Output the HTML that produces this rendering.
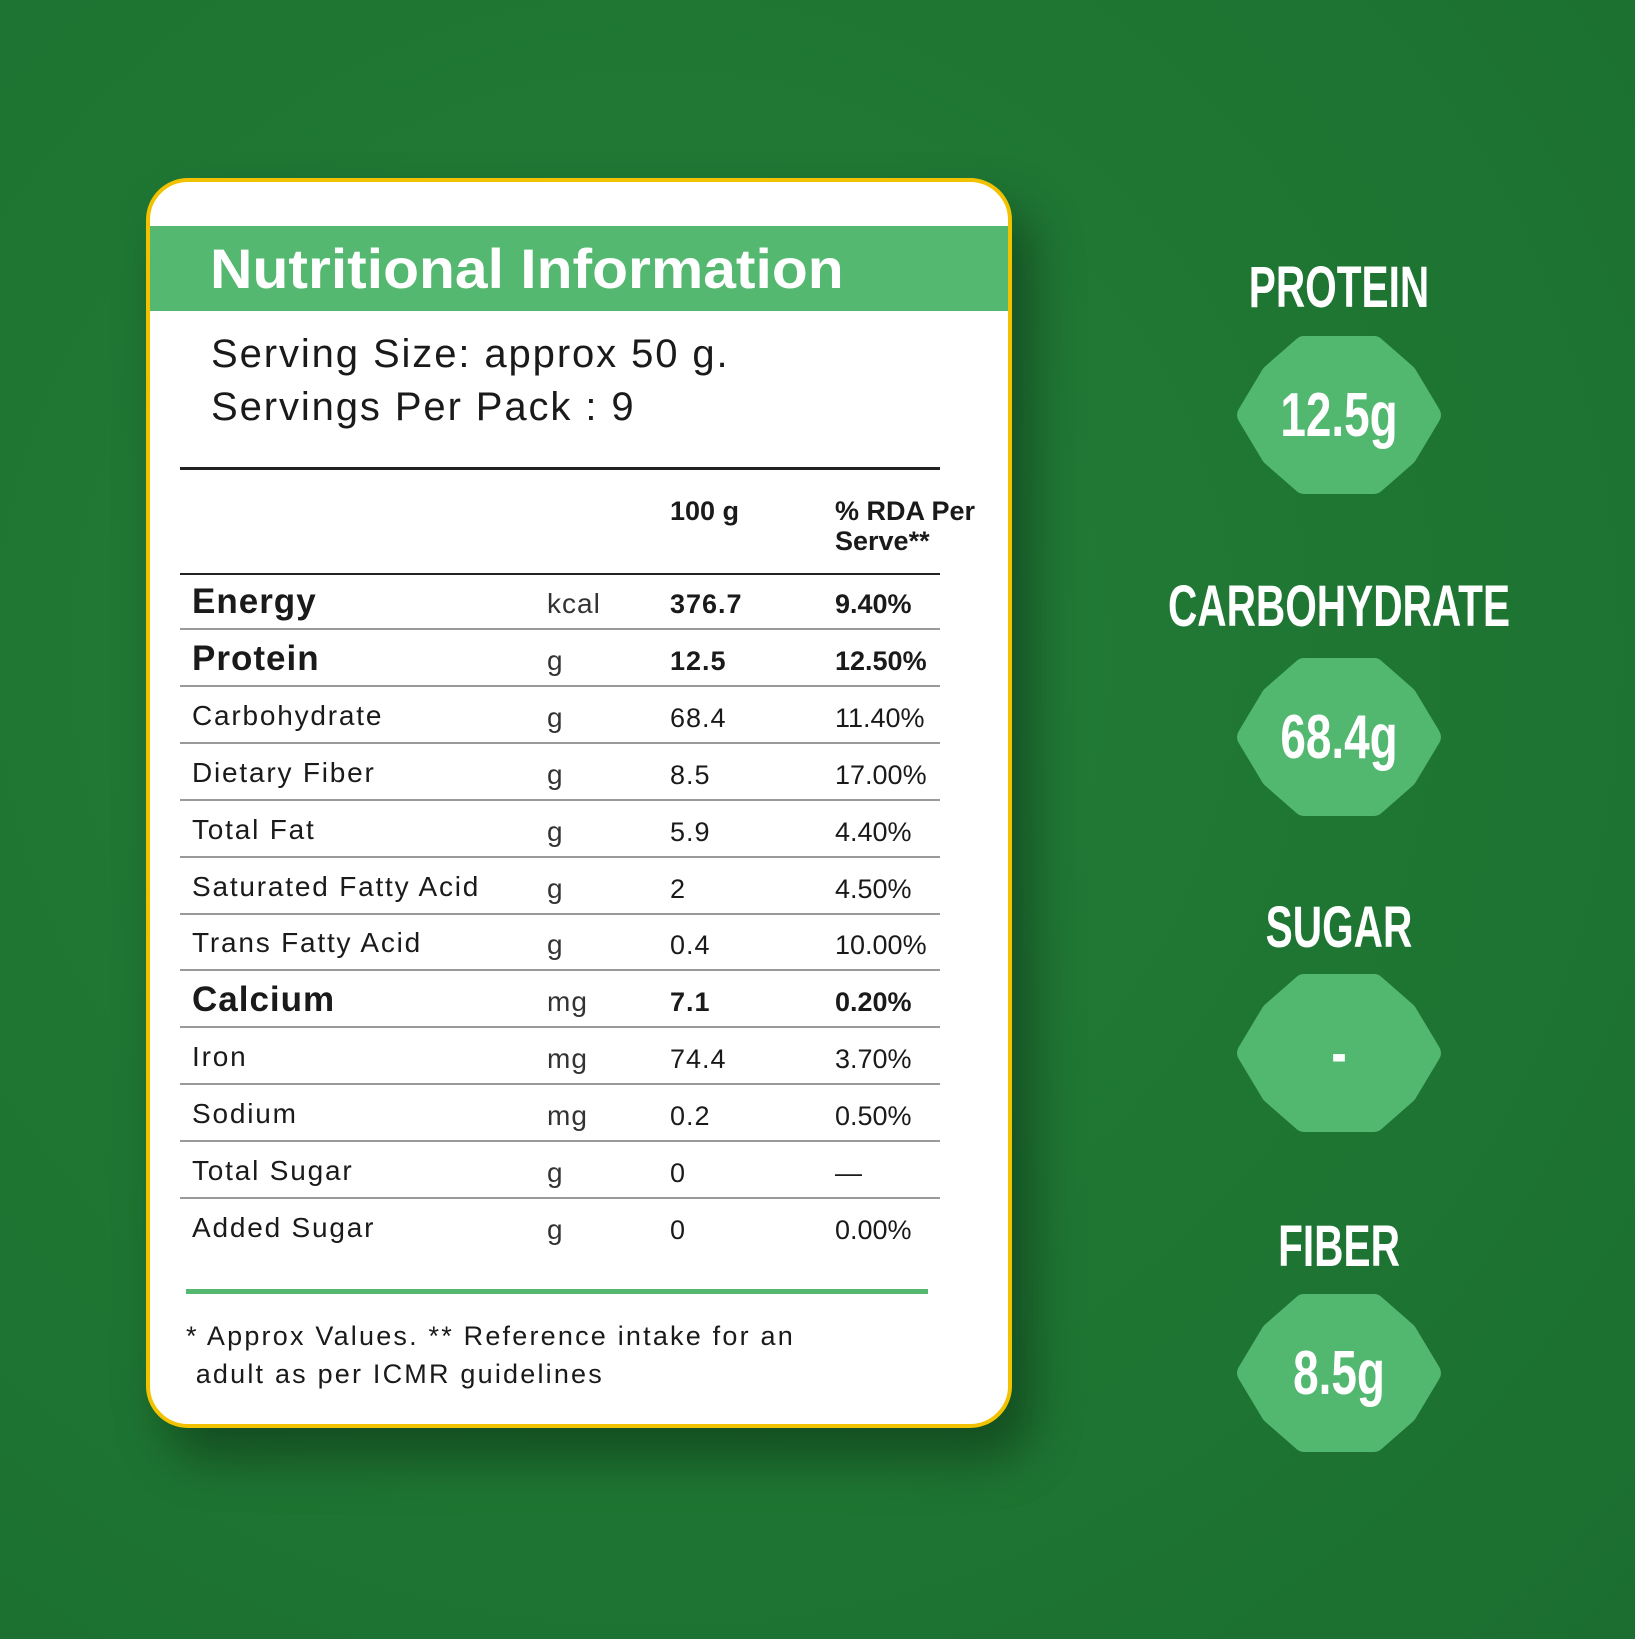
<!DOCTYPE html>
<html><head><meta charset="utf-8"><style>
*{margin:0;padding:0;box-sizing:border-box}
body{width:1635px;height:1639px;overflow:hidden;background:#1f7634;font-family:"Liberation Sans",sans-serif;position:relative}
.bg{position:absolute;inset:0;background:radial-gradient(ellipse at 40% 40%,#237d38 0%,#1e7532 60%,#1b6e2f 100%)}
.card{position:absolute;left:146px;top:178px;width:866px;height:1250px;background:#fff;border:4px solid #f2c200;border-radius:42px;box-shadow:20px 30px 50px rgba(0,0,0,.35);overflow:hidden}
.band{position:absolute;left:0;top:44px;width:100%;height:85px;background:#55b870}
.band span{position:absolute;left:60px;top:10px;font-size:56px;font-weight:bold;color:#fff;letter-spacing:0;transform:scaleX(1.05);transform-origin:left center;white-space:nowrap}
.t{position:absolute;color:#1a1a1a;white-space:nowrap}
.hl{position:absolute;left:30px;width:760px;background:#222}
.rl{position:absolute;left:30px;width:760px;height:2px;background:#999}
.lab{position:absolute;width:600px;left:1039px;text-align:center;color:#fff;font-weight:bold;font-size:58px;transform:scaleX(0.7);transform-origin:center;white-space:nowrap}
.bd{position:absolute;left:1236px;width:206px;height:160px}
.bd span{position:absolute;inset:0;display:flex;align-items:center;justify-content:center;color:#fff;font-weight:bold;font-size:62px;transform:scaleX(0.74)}
</style></head><body>
<div class="bg"></div>
<div class="card">
<div class="band"><span>Nutritional Information</span></div>
<div class="t" style="left:61px;top:150px;font-size:40px;letter-spacing:1.9px">Serving Size: approx 50 g.</div>
<div class="t" style="left:61px;top:203px;font-size:40px;letter-spacing:1.9px">Servings Per Pack : 9</div>
<div class="hl" style="top:285px;height:3px"></div>
<div class="t" style="left:520px;top:314px;font-size:27px;font-weight:bold">100 g</div>
<div class="t" style="left:685px;top:314px;font-size:27px;font-weight:bold;line-height:30px">% RDA Per<br>Serve**</div>
<div class="hl" style="top:391px;height:2px"></div>
<div id="rows"></div>
<div style="position:absolute;left:36px;top:1107px;width:742px;height:5px;background:#55b870"></div>
<div class="t" style="left:36px;top:1135px;font-size:27px;line-height:38px;letter-spacing:2.2px">* Approx Values. ** Reference intake for an<br>&nbsp;adult as per ICMR guidelines</div>
</div>
<div class="lab" style="top:254px">PROTEIN</div>
<div class="lab" style="top:573px">CARBOHYDRATE</div>
<div class="lab" style="top:894px">SUGAR</div>
<div class="lab" style="top:1213px">FIBER</div>
<div id="badges"></div>
<script>
var rows=[["Energy","kcal","376.7","9.40%",1],["Protein","g","12.5","12.50%",1],["Carbohydrate","g","68.4","11.40%"],["Dietary Fiber","g","8.5","17.00%"],["Total Fat","g","5.9","4.40%"],["Saturated Fatty Acid","g","2","4.50%"],["Trans Fatty Acid","g","0.4","10.00%"],["Calcium","mg","7.1","0.20%",1],["Iron","mg","74.4","3.70%"],["Sodium","mg","0.2","0.50%"],["Total Sugar","g","0","—"],["Added Sugar","g","0","0.00%"]];
var h="";
rows.forEach(function(r,i){var c=420+i*56.9;var b=r[4];
h+='<div class="t" style="left:42px;top:'+(c-20)+'px;font-size:'+(b?35:28)+'px;'+(b?'font-weight:bold;letter-spacing:1px;':'letter-spacing:1.8px;')+'line-height:40px">'+r[0]+'</div>';
h+='<div class="t" style="left:397px;top:'+(c-18)+'px;font-size:28px;line-height:40px;color:#333;letter-spacing:1px">'+r[1]+'</div>';
h+='<div class="t" style="left:520px;top:'+(c-18)+'px;font-size:27px;line-height:40px;letter-spacing:1px;'+(b?'font-weight:bold;':'')+'">'+r[2]+'</div>';
h+='<div class="t" style="left:685px;top:'+(c-18)+'px;font-size:27px;line-height:40px;'+(b?'font-weight:bold;':'')+'">'+r[3]+'</div>';
if(i<11)h+='<div class="rl" style="top:'+(c+26)+'px"></div>';});
document.getElementById("rows").innerHTML=h;
var bs=[[415,"12.5g"],[737,"68.4g"],[1053,"-"],[1373,"8.5g"]],g="";
bs.forEach(function(b){g+='<div class="bd" style="top:'+(b[0]-80)+'px"><svg width="206" height="160" viewBox="0 0 206 160"><polygon points="68,12 138,12 170,40 194,80 170,120 138,148 68,148 36,120 12,80 36,40" fill="#52b86f" stroke="#52b86f" stroke-width="22" stroke-linejoin="round"/></svg><span>'+b[1]+'</span></div>';});
document.getElementById("badges").innerHTML=g;
</script>
</body></html>
